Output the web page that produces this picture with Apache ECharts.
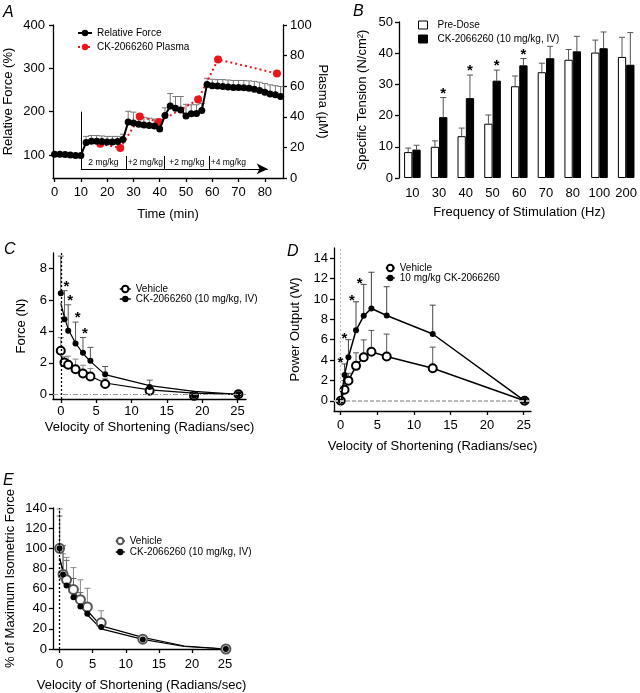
<!DOCTYPE html>
<html><head><meta charset="utf-8">
<script src="https://cdn.jsdelivr.net/npm/echarts@6/dist/echarts.min.js"></script>
<style>html,body{margin:0;padding:0;background:#fff}#c{width:640px;height:693px}</style>
</head><body><div id="c"></div>
<script>
// ---------- Panel A ----------
const forceTime = [0,2,4,6,8,10,12,14,16,18,20,22,24,26,28,30,32,34,36,38,40,42,44,46,48,50,52,54,56,58,60,62,64,66,68,70,72,74,76,78,80,82,84,86];
const relForce = [102,102,101,100,99,99, 129,132,132,131,130,130,131,136, 176,174,171,169,168,167,160, 191,213,208,204,190,195,196,203, 263,260,259,258,257,256,256,255,254,252,249,245,241,239,235];
const relForceErr = [2,2,2,2,2,2, 14,13,13,13,13,13,12,12, 25,25,22,18,17,16,18, 18,29,27,31,27,21,20,16, 14,15,15,16,16,16,16,17,17,18,19,20,21,21,23];
const plasmaTime = [17.4, 25, 32.4, 39.7, 54.6, 62.2, 84.6];
const plasma = [22.4, 19.6, 40.2, 36.6, 51.3, 77.5, 68.3];
const doseBounds = [10, 27.2, 41.9, 58.7, 73.5, 81.1];
const doseLabels = ['2 mg/kg', '+2 mg/kg', '+2 mg/kg', '+4 mg/kg', ''];
const doseDividers = [27.2, 41.9, 58.7];
const doseArrowY = 68, doseDividerTop = 98, doseStartTop = 200;
const ticksAx = [0,10,20,30,40,50,60,70,80];
const ticksAyL = [100,200,300,400];

// ---------- Panel B ----------
const freqCats = ['10','30','40','50','60','70','80','100','200'];
const preDose = [8.3, 10.0, 13.4, 17.4, 29.4, 33.9, 37.9, 40.2, 38.8];
const preDoseErr = [1.3, 1.9, 2.6, 2.8, 3.3, 2.9, 3.3, 4.0, 6.3];
const ckDose = [9.1, 19.5, 25.6, 31.2, 36.1, 38.4, 40.6, 41.6, 36.3];
const ckDoseErr = [1.4, 6.3, 7.4, 3.4, 2.2, 3.8, 4.8, 5.2, 10.3];
const sigB = [1,2,3,4];

// ---------- Panel C ----------
const velC = [0, 0.52, 1.05, 2.09, 3.14, 4.19, 6.28, 12.57, 18.85, 25.13];
const cVeh = [2.77, 2.03, 1.88, 1.60, 1.32, 1.13, 0.66, 0.23, -0.1, 0];
const cVehErr = [0.85, 0.37, 0.55, 0.64, 0.53, 0.51, 0.36, 0.09, 0, 0];
const cCK = [6.44, 4.78, 4.05, 3.24, 2.64, 2.13, 1.28, 0.47, -0.1, 0];
const cCKErr = [2.36, 1.82, 1.65, 1.36, 0.98, 0.86, 0.49, 0.43, 0, 0];
const cVehFit = [2.45, 2.1, 1.9, 1.6, 1.35, 1.15, 0.72, 0.28, 0.08, 0];
const cCKFit = [5.8, 4.9, 4.15, 3.25, 2.6, 2.1, 1.25, 0.55, 0.18, 0];
const sigC = [1,2,3,4];

// ---------- Panel D ----------
const velD = [0, 0.52, 1.05, 2.09, 3.14, 4.19, 6.28, 12.57, 25.13];
const dVeh = [0, 1.09, 1.98, 3.43, 4.28, 4.81, 4.35, 3.2, 0];
const dVehErr = [0, 0.9, 0.72, 1.28, 1.7, 2.1, 2.2, 2.07, 0];
const dCK = [0, 2.54, 4.28, 6.92, 8.34, 9.06, 8.37, 6.56, 0];
const dCKErr = [0, 1.08, 1.72, 2.8, 3.09, 3.56, 2.83, 2.83, 0];
const sigD = [1,2,3,4];

// ---------- Panel E ----------
const velE = [0, 0.52, 1.05, 2.09, 3.14, 4.19, 6.28, 12.57, 25.13];
const eVeh = [100, 74, 68.7, 59, 49, 41.7, 26, 9.8, 0];
const eVehErr = [39, 20.5, 22.3, 21.8, 19.7, 18.6, 12, 3.2, 0];
const eCK = [100, 74, 63, 51.5, 42.3, 34.9, 21.8, 9.4, 0];
const eCKErr = [32, 28.6, 25, 18.5, 13.7, 9.7, 5, 2.6, 0];
const velEFit = [0, 0.52, 1.05, 2.09, 3.14, 4.19, 6.28, 12.57, 18.85, 25.13];
const eVehFit = [90, 78, 70, 58, 47, 38, 23, 11.5, 3, 0];
const eCKFit = [90, 76, 67, 54, 43, 34, 20, 9.5, 2.5, 0];

const velTicks = [0,5,10,15,20,25];

// ---------- helpers ----------
const FONT = '"Liberation Sans", Arial, Helvetica, sans-serif';
const AX = {color:'#000', width:1.3};
const zip = (xs, ys) => xs.map((x,i)=>[x, ys[i]]);
const zip3 = (xs, ys, es) => xs.map((x,i)=>[x, ys[i], es[i]]);

function vAxis(grid, min, max, ticks, name, gap, extra, margin) {
  const a = {
    type:'value', gridIndex:grid, min:min, max:max,
    splitLine:{show:false},
    axisLine:{show:true, onZero:false, lineStyle:AX},
    axisTick:{show:true, length:4, lineStyle:AX, customValues:ticks},
    axisLabel:{color:'#000', fontSize:13, fontFamily:FONT, margin:margin || 6, customValues:ticks},
    name:name, nameLocation:'middle', nameGap:gap,
    nameTextStyle:{color:'#000', fontSize:13, fontFamily:FONT}
  };
  return Object.assign(a, extra || {});
}

function errBar(color, half, dx) {
  return function(params, api) {
    const x = api.value(0), y = api.value(1), e = api.value(2);
    if (!e) return null;
    const p0 = api.coord([x, y]);
    const p1 = api.coord([x, y + e]);
    const ox = dx || 0;
    const st = {stroke:color, lineWidth:1};
    return {type:'group', children:[
      {type:'line', shape:{x1:p0[0]+ox, y1:p0[1], x2:p1[0]+ox, y2:p1[1]}, style:st},
      {type:'line', shape:{x1:p1[0]+ox-half, y1:p1[1], x2:p1[0]+ox+half, y2:p1[1]}, style:st}
    ]};
  };
}
function stars(dx, dy) {
  return function(params, api) {
    const p = api.coord([api.value(0), api.value(1)]);
    return {type:'text', x:p[0]+dx, y:p[1]+dy,
      style:{text:'*', font:'bold 15px ' + FONT, align:'center', verticalAlign:'middle', textAlign:'center', textVerticalAlign:'middle', fill:'#000'}};
  };
}
function errSeries(xi, yi, data, color, half, dx) {
  return {type:'custom', xAxisIndex:xi, yAxisIndex:yi, data:data, renderItem:errBar(color, half, dx), z:1, silent:true, encode:{x:0, y:1}};
}
function starSeries(xi, yi, data, dx, dy) {
  return {type:'custom', xAxisIndex:xi, yAxisIndex:yi, data:data, renderItem:stars(dx, dy), z:5, silent:true, encode:{x:0, y:1}};
}

// dose annotation lines
const doseLines = [];
doseLines.push([{coord:[doseBounds[0], doseArrowY]}, {coord:[doseBounds[0], doseStartTop]}]);
for (let i = 0; i < doseBounds.length - 1; i++) {
  const last = i === doseBounds.length - 2;
  doseLines.push([
    {coord:[doseBounds[i], doseArrowY], symbol:'none',
     label:{show:!!doseLabels[i], formatter:doseLabels[i], position:'middle', distance:2, fontSize:8.5, color:'#000', fontFamily:FONT}},
    {coord:[doseBounds[i+1], doseArrowY], symbol: last ? 'arrow' : 'none', symbolSize:[8, 11]}
  ]);
}
doseDividers.forEach(b => doseLines.push([{coord:[b, doseArrowY]}, {coord:[b, doseDividerTop]}]));

const legendText = {color:'#000', fontSize:10, fontFamily:FONT, lineHeight:10};

const option = {
  animation:false,
  backgroundColor:'#fff',
  textStyle:{fontFamily:FONT},
  graphic:[
    {type:'text', left:3, top:5, style:{text:'A', font:'italic 16px ' + FONT, fill:'#000'}},
    {type:'text', left:353, top:4, style:{text:'B', font:'italic 16px ' + FONT, fill:'#000'}},
    {type:'text', left:4, top:242, style:{text:'C', font:'italic 16px ' + FONT, fill:'#000'}},
    {type:'text', left:287, top:244, style:{text:'D', font:'italic 16px ' + FONT, fill:'#000'}},
    {type:'text', left:3, top:473, style:{text:'E', font:'italic 16px ' + FONT, fill:'#000'}}
  ],
  grid:[
    {left:53, top:25, width:230, height:153},
    {left:399, top:22, width:241, height:156},
    {left:53, top:253, width:193, height:146},
    {left:334, top:248, width:197, height:163},
    {left:53, top:508, width:177, height:144}
  ],
  legend:[
    {orient:'vertical', left:72, top:23, itemWidth:14, itemHeight:8, itemGap:4, textStyle:legendText,
     data:['Relative Force', 'CK-2066260 Plasma']},
    {orient:'vertical', left:413, top:15, itemWidth:9, itemHeight:8, itemGap:4, icon:'rect',
     textStyle:Object.assign({padding:[0,0,0,5]}, legendText),
     itemStyle:{borderColor:'#000', borderWidth:1},
     data:['Pre-Dose', 'CK-2066260 (10 mg/kg, IV)']},
    {orient:'vertical', left:114, top:279, itemWidth:11, itemHeight:8, itemGap:0, textStyle:legendText,
     lineStyle:{width:1.5, color:'#000', opacity:1},
     data:['Vehicle', 'CK-2066260 (10 mg/kg, IV) ']},
    {orient:'vertical', left:380, top:258, itemWidth:9, itemHeight:8, itemGap:0, textStyle:legendText,
     lineStyle:{width:1.5, color:'#000', opacity:1},
     data:['Vehicle ', '10 mg/kg CK-2066260']},
    {orient:'vertical', left:110, top:531, itemWidth:9, itemHeight:8, itemGap:1, textStyle:legendText,
     lineStyle:{width:1.5, color:'#000', opacity:1},
     data:['Vehicle  ', 'CK-2066260 (10 mg/kg, IV)  ']}
  ],
  xAxis:[
    vAxis(0, -0.6, 86.9, ticksAx, 'Time (min)', 30, null, 8),
    {type:'category', gridIndex:1, data:freqCats, boundaryGap:true,
     axisLine:{show:false}, axisTick:{show:false},
     axisLabel:{color:'#000', fontSize:13, fontFamily:FONT, margin:9, interval:0},
     name:'Frequency of Stimulation (Hz)', nameLocation:'middle', nameGap:28,
     nameTextStyle:{color:'#000', fontSize:13, fontFamily:FONT}},
    vAxis(2, -1.1, 26.2, velTicks, 'Velocity of Shortening (Radians/sec)', 22, null, 6),
    vAxis(3, -0.92, 26.0, velTicks, 'Velocity of Shortening (Radians/sec)', 29, null, 8),
    vAxis(4, -1.0, 25.75, velTicks, 'Velocity of Shortening (Radians/sec)', 30, null, 9)
  ],
  yAxis:[
    vAxis(0, 47, 400, ticksAyL, 'Relative Force (%)', 38, null, 8),
    vAxis(0, 0, 100, [0,20,40,60,80,100], 'Plasma (µM)', 33, {position:'right', nameRotate:-90}, 7),
    vAxis(1, 0, 50, [0,10,20,30,40,50], 'Specific Tension (N/cm²)', 30),
    vAxis(2, -0.3, 9, [0,2,4,6,8], 'Force (N)', 25),
    vAxis(3, -1, 15, [0,2,4,6,8,10,12,14], 'Power Output (W)', 32),
    vAxis(4, 0, 140, [0,20,40,60,80,100,120,140], '% of Maximum Isometric Force', 36)
  ],
  series:[
    // ---- A ----
    errSeries(0, 0, zip3(forceTime, relForce, relForceErr), '#777', 3),
    {name:'Relative Force', type:'line', xAxisIndex:0, yAxisIndex:0, data:zip(forceTime, relForce),
     symbol:'circle', symbolSize:7, itemStyle:{color:'#000'}, lineStyle:{color:'#000', width:2}, z:3},
    {name:'CK-2066260 Plasma', type:'line', xAxisIndex:0, yAxisIndex:1, data:zip(plasmaTime, plasma),
     symbol:'circle', symbolSize:8, itemStyle:{color:'#e8161b'}, lineStyle:{color:'#e8161b', width:2, type:[2,3]}, z:2},
    {type:'line', xAxisIndex:0, yAxisIndex:0, data:[], silent:true,
     markLine:{silent:true, symbol:'none', animation:false, label:{show:false},
       lineStyle:{color:'#000', width:1, type:'solid'}, emphasis:{disabled:true}, data:doseLines}},
    // ---- B ----
    {name:'Pre-Dose', type:'bar', xAxisIndex:1, yAxisIndex:2, data:preDose, barWidth:8.3, barGap:'0%',
     itemStyle:{color:'#fff', borderColor:'#000', borderWidth:1}, z:2},
    {name:'CK-2066260 (10 mg/kg, IV)', type:'bar', xAxisIndex:1, yAxisIndex:2, data:ckDose, barWidth:8.3, barGap:'0%',
     itemStyle:{color:'#000', borderColor:'#000', borderWidth:1}, z:2},
    errSeries(1, 2, freqCats.map((c,i)=>[i, preDose[i], preDoseErr[i]]), '#555', 3, -4.15),
    errSeries(1, 2, freqCats.map((c,i)=>[i, ckDose[i], ckDoseErr[i]]), '#555', 3, 4.15),
    starSeries(1, 2, sigB.map(i=>[i, ckDose[i] + ckDoseErr[i]]), 4.15, -4),
    // ---- C ----
    errSeries(2, 3, zip3(velC, cVeh, cVehErr), '#888', 3),
    errSeries(2, 3, zip3(velC, cCK, cCKErr), '#555', 3),
    {type:'line', xAxisIndex:2, yAxisIndex:3, data:zip(velC, cVehFit), symbol:'none', lineStyle:{color:'#000', width:1.2}, z:2, silent:true,
     markLine:{silent:true, symbol:'none', label:{show:false}, emphasis:{disabled:true},
       data:[{xAxis:0, lineStyle:{type:[2,2], color:'#000', width:1.3}},
             {yAxis:0, lineStyle:{type:[5,2,1,2], color:'#999', width:1}}]}},
    {type:'line', xAxisIndex:2, yAxisIndex:3, data:zip(velC, cCKFit), symbol:'none', lineStyle:{color:'#000', width:1.2}, z:2, silent:true},
    {name:'Vehicle', type:'line', xAxisIndex:2, yAxisIndex:3, data:zip(velC, cVeh), symbol:'emptyCircle', symbolSize:8,
     itemStyle:{color:'#000', borderWidth:2}, lineStyle:{width:0}, z:3},
    {name:'CK-2066260 (10 mg/kg, IV) ', type:'line', xAxisIndex:2, yAxisIndex:3, data:zip(velC, cCK), symbol:'circle', symbolSize:6,
     itemStyle:{color:'#000'}, lineStyle:{width:0}, z:4},
    starSeries(2, 3, sigC.map(i=>[velC[i], cCK[i] + cCKErr[i]]), 2, -4),
    // ---- D ----
    errSeries(3, 4, zip3(velD, dVeh, dVehErr), '#555', 3),
    errSeries(3, 4, zip3(velD, dCK, dCKErr), '#444', 3),
    {type:'line', xAxisIndex:3, yAxisIndex:4, data:[], silent:true,
     markLine:{silent:true, symbol:'none', label:{show:false}, emphasis:{disabled:true},
       data:[{xAxis:0, lineStyle:{type:[2,2], color:'#bbb', width:1}},
             {yAxis:0, lineStyle:{type:[4,2], color:'#bbb', width:2}}]}},
    {name:'Vehicle ', type:'line', xAxisIndex:3, yAxisIndex:4, data:zip(velD, dVeh), symbol:'emptyCircle', symbolSize:8,
     itemStyle:{color:'#000', borderWidth:2}, lineStyle:{color:'#000', width:1.5}, z:3},
    {name:'10 mg/kg CK-2066260', type:'line', xAxisIndex:3, yAxisIndex:4, data:zip(velD, dCK), symbol:'circle', symbolSize:6,
     itemStyle:{color:'#000'}, lineStyle:{color:'#000', width:1.5}, z:4},
    starSeries(3, 4, sigD.map(i=>[velD[i], dCK[i] + dCKErr[i]]), -4, -1),
    // ---- E ----
    errSeries(4, 5, zip3(velE, eVeh, eVehErr), '#888', 3),
    errSeries(4, 5, zip3(velE, eCK, eCKErr), '#666', 3),
    {type:'line', xAxisIndex:4, yAxisIndex:5, data:zip(velEFit, eVehFit), symbol:'none', lineStyle:{color:'#000', width:1.2}, z:2, silent:true,
     markLine:{silent:true, symbol:'none', label:{show:false}, emphasis:{disabled:true},
       data:[{xAxis:0, lineStyle:{type:[2,2], color:'#000', width:1.3}}]}},
    {type:'line', xAxisIndex:4, yAxisIndex:5, data:zip(velEFit, eCKFit), symbol:'none', lineStyle:{color:'#000', width:1.2}, z:2, silent:true},
    {name:'Vehicle  ', type:'line', xAxisIndex:4, yAxisIndex:5, data:zip(velE, eVeh), symbol:'emptyCircle', symbolSize:9,
     itemStyle:{color:'#555', borderWidth:2.5}, lineStyle:{width:0}, z:3},
    {name:'CK-2066260 (10 mg/kg, IV)  ', type:'line', xAxisIndex:4, yAxisIndex:5, data:zip(velE, eCK), symbol:'circle', symbolSize:6,
     itemStyle:{color:'#000'}, lineStyle:{width:0}, z:4}
  ]
};

const chart = echarts.init(document.getElementById('c'), null, {renderer:'canvas'});
chart.setOption(option);
</script>
</body></html>
